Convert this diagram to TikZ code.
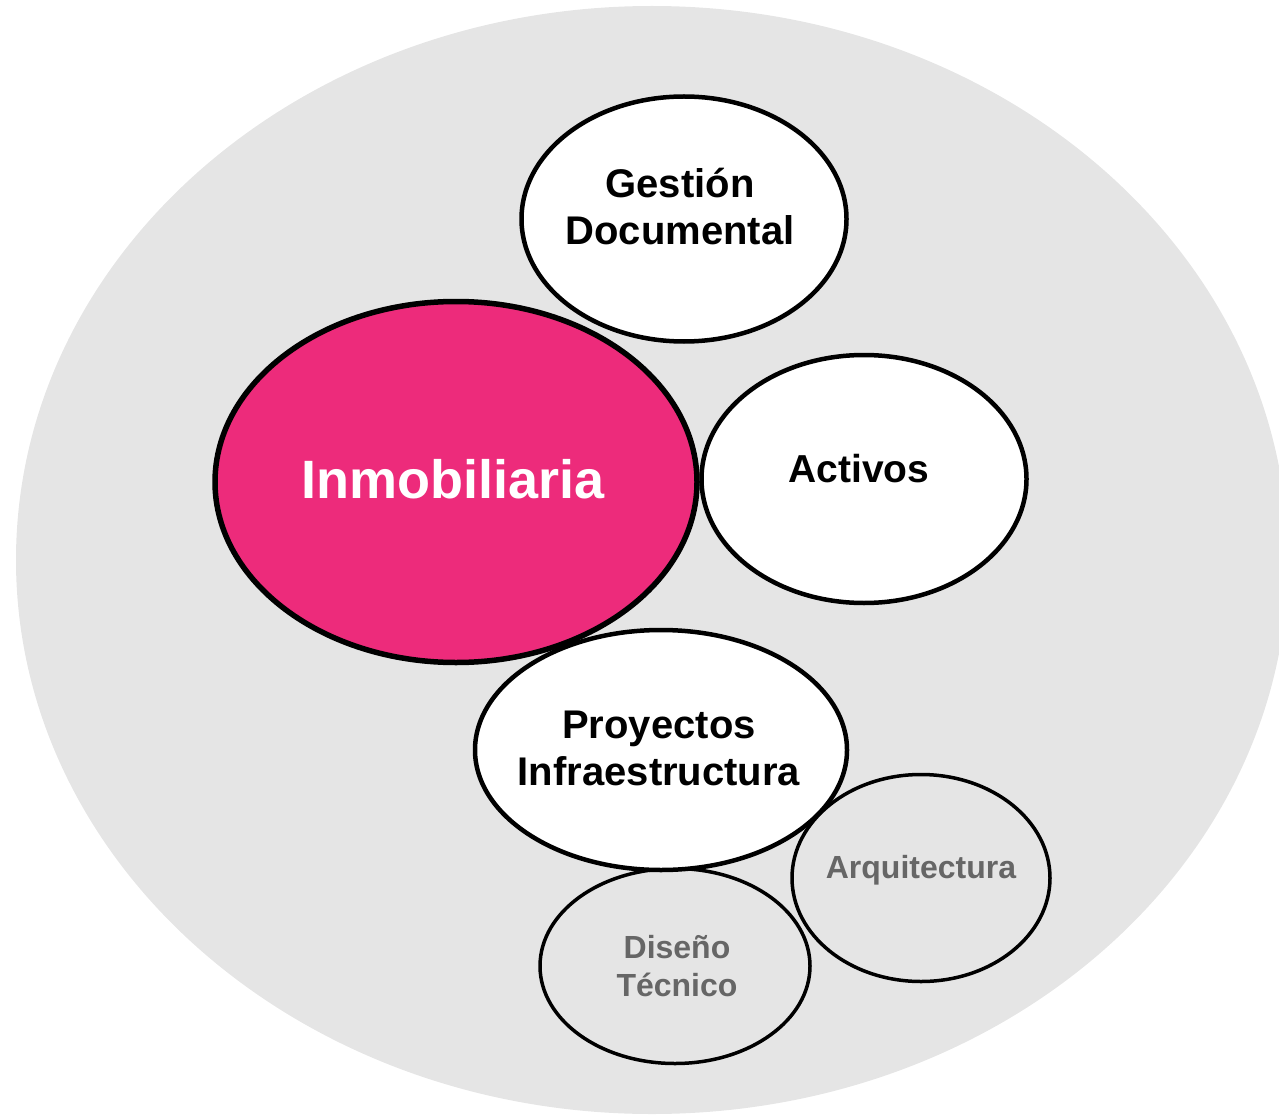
\documentclass[tikz,border=0pt]{standalone}
\usepackage{fontspec}
\setmainfont{Liberation Sans}
\usepackage{tikz}
\usepackage{xcolor}
\usetikzlibrary{shapes}
\usetikzlibrary{positioning}

\definecolor{bggray}{RGB}{229,229,229}
\definecolor{inmopink}{RGB}{237,43,123}
\definecolor{subgray}{RGB}{102,102,102}

\tikzset{
  bubble/.style={ellipse, draw=black, line width=4.5pt, fill=white, inner sep=0pt},
  subbubble/.style={ellipse, draw=black, line width=3.5pt, inner sep=0pt},
  maintext/.style={anchor=base, align=center, inner sep=0pt, font=\bfseries\fontsize{40}{47}\selectfont},
  subtext/.style={anchor=base, align=center, inner sep=0pt, text=subgray, font=\bfseries\fontsize{32}{38}\selectfont}
}

\begin{document}
\begin{tikzpicture}[x=1pt,y=1pt,yscale=-1,xscale=1]
\useasboundingbox (0,0) rectangle (1279,1115);

%Shape: Ellipse [background]
\fill [bggray] (652,560) ellipse (636 and 554);

%Shape: Ellipse [Arquitectura]
\node (arq) [subbubble, minimum width=258pt, minimum height=207pt] at (921,878) {};
%Shape: Ellipse [Diseno]
\node (dis) [subbubble, minimum width=270pt, minimum height=195pt] at (675,966) {};
%Shape: Ellipse [Proyectos]
\node (proy) [bubble, minimum width=372pt, minimum height=240pt] at (661,750) {};
%Shape: Ellipse [Activos]
\node (act) [bubble, minimum width=325pt, minimum height=248pt] at (864,479) {};
%Shape: Ellipse [Gestion]
\node (gest) [bubble, minimum width=325pt, minimum height=245pt] at (684,219) {};
%Shape: Ellipse [Inmobiliaria]
\node (inmo) [bubble, fill=inmopink, line width=5.5pt, minimum width=482pt, minimum height=361pt] at (456,482) {};

% Text Node (base = last line)
\node (gestlbl) [maintext] at (680,245) {Gestión\\Documental};
% Text Node
\node (inmolbl) [maintext, text=white, font=\bfseries\fontsize{54}{60}\selectfont] at (453,498) {Inmobiliaria};
% Text Node
\node (actlbl) [maintext, font=\bfseries\fontsize{39}{47}\selectfont] at (859,482) {Activos};
% Text Node
\node (proylbl) [maintext] at (659,785) {Proyectos\\Infraestructura};
% Text Node
\node (arqlbl) [subtext] at (921,878) {Arquitectura};
% Text Node
\node (dislbl) [subtext] at (677,996) {Diseño\\Técnico};

\end{tikzpicture}
\end{document}
